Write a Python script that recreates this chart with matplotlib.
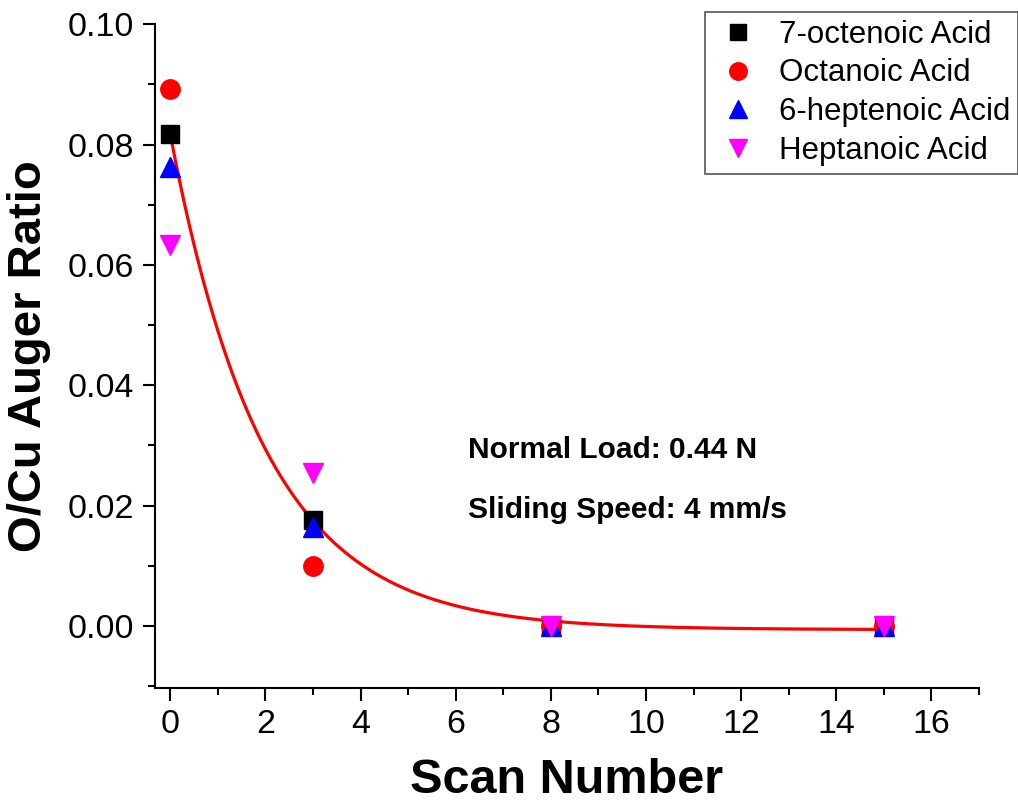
import numpy as np
import matplotlib
matplotlib.use("Agg")
import matplotlib.pyplot as plt
from matplotlib.ticker import MultipleLocator

plt.rcParams['font.family'] = ['Liberation Sans', 'DejaVu Sans']

scan = [0, 3, 8, 15]
octenoic7 = [0.0817, 0.0177, 0.0, 0.0]
octanoic = [0.0893, 0.0100, 0.0, 0.0]
heptenoic6 = [0.0763, 0.0165, 0.0, 0.0]
heptanoic = [0.0633, 0.0255, 0.0, 0.0]

# exponential decay fit parameters
fit_y0 = -0.0006
fit_A = 0.0823
fit_t = 1.98

fig = plt.figure(figsize=(10.18, 8.05), dpi=100)
ax = fig.add_axes([0.1523, 0.1453, 0.8094, 0.8247])

xf = np.linspace(0, 15, 300)
ax.plot(xf, fit_y0 + fit_A * np.exp(-xf / fit_t), color='#ff0000', lw=2.3, zorder=1)

ax.plot(scan, octenoic7, 's', color='black', ms=13, ls='none', label='7-octenoic Acid', zorder=3)
ax.plot(scan, octanoic, 'o', color='#ff0000', ms=14, ls='none', label='Octanoic Acid', zorder=3)
ax.plot(scan, heptenoic6, '^', color='#0000ff', ms=15, ls='none', label='6-heptenoic Acid', zorder=3)
ax.plot(scan, heptanoic, 'v', color='#ff00ff', ms=15, ls='none', label='Heptanoic Acid', zorder=3)

ax.set_xlim(-0.32, 17.0)
ax.set_ylim(-0.0103, 0.10)
ax.xaxis.set_major_locator(MultipleLocator(2))
ax.xaxis.set_minor_locator(MultipleLocator(1))
ax.yaxis.set_major_locator(MultipleLocator(0.02))
ax.yaxis.set_minor_locator(MultipleLocator(0.01))
ax.yaxis.set_major_formatter(matplotlib.ticker.FormatStrFormatter('%.2f'))

for s in ['top', 'right']:
    ax.spines[s].set_visible(False)
for s in ['left', 'bottom']:
    ax.spines[s].set_linewidth(1.5)
ax.tick_params(which='major', direction='out', length=9, width=1.5, labelsize=24.5, pad=6)
ax.tick_params(which='minor', direction='out', length=5, width=1.5)

ax.set_xlabel('Scan Number', fontsize=35, fontweight='bold', labelpad=13)
ax.set_ylabel('O/Cu Auger Ratio', fontsize=34, fontweight='bold', labelpad=12)

ax.text(6.26, 0.0293, 'Normal Load: 0.44 N', fontsize=21.5, fontweight='bold', va='center')
ax.text(6.26, 0.0193, 'Sliding Speed: 4 mm/s', fontsize=21.5, fontweight='bold', va='center')

leg = ax.legend(loc='upper right', bbox_to_anchor=(1.066, 1.042), fontsize=22.5, frameon=True,
                fancybox=False, edgecolor='#555555', framealpha=1, handletextpad=0.5,
                labelspacing=0.28, borderpad=0.25, handlelength=1.6, markerscale=0.9)
leg.get_frame().set_linewidth(1.2)

fig.savefig('out.png', dpi=100)
